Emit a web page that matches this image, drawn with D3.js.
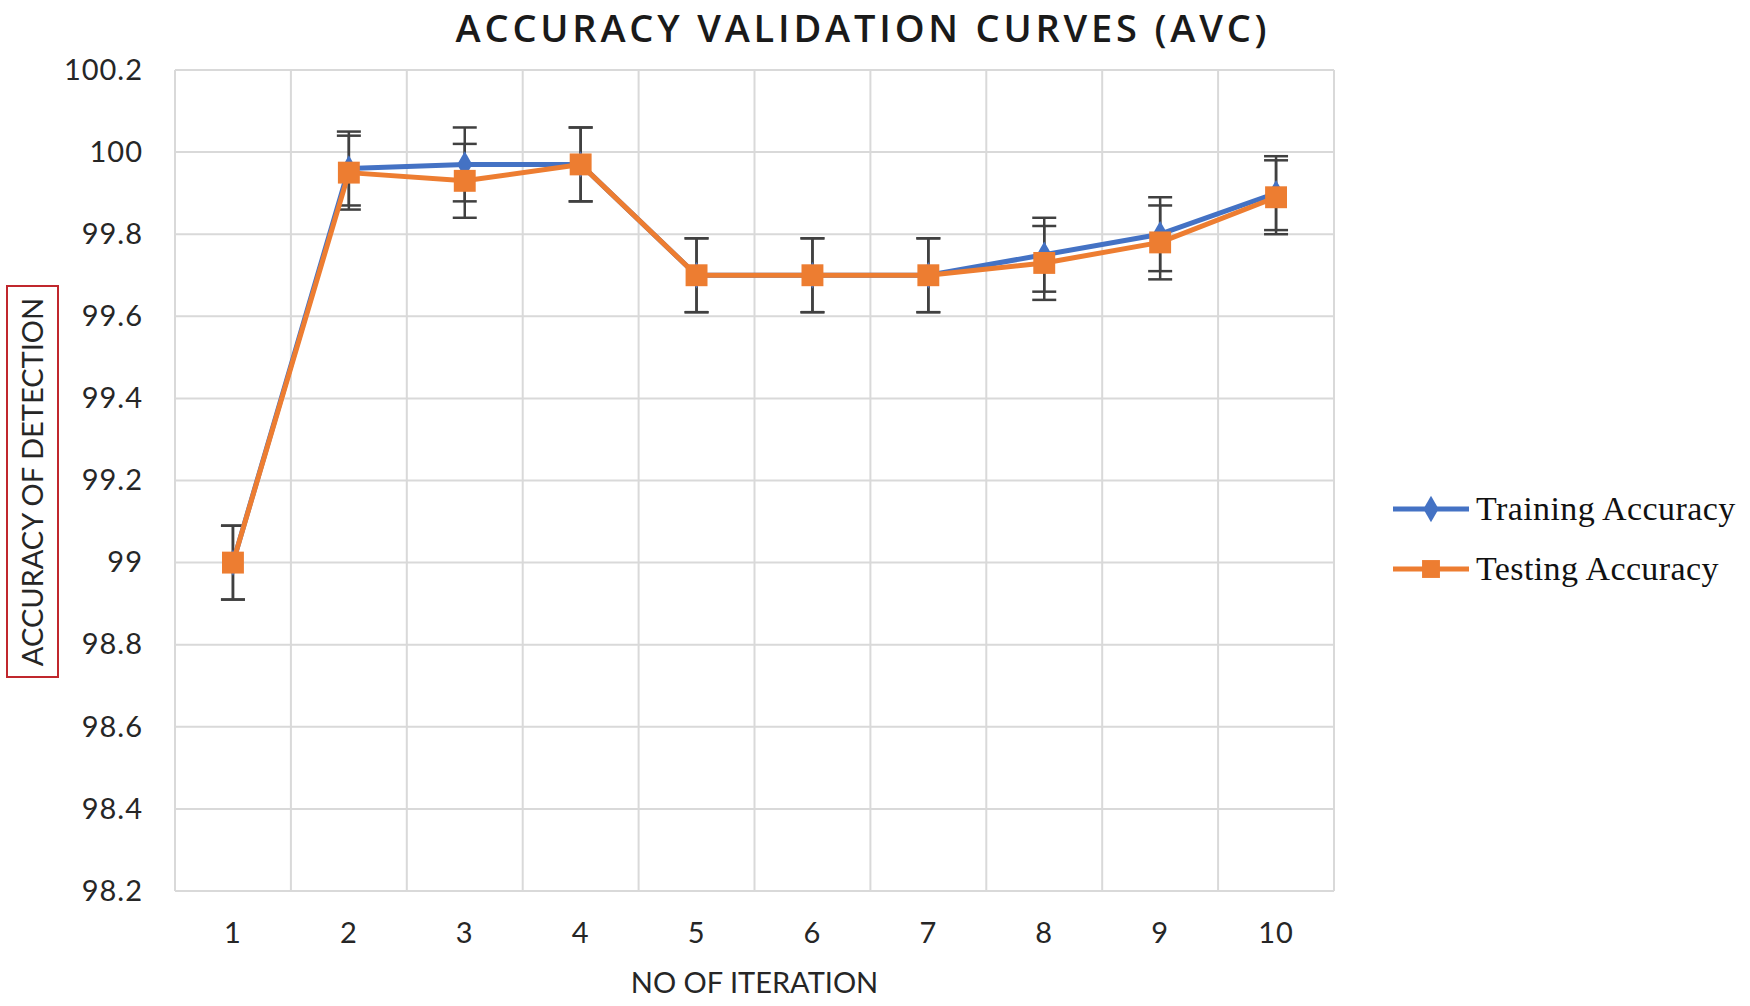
<!DOCTYPE html>
<html>
<head>
<meta charset="utf-8">
<script src="https://cdn.jsdelivr.net/npm/d3@7"></script>
<style>
  body { margin: 0; background: #fff; }
  svg { display: block; }
</style>
</head>
<body>
<svg></svg>
<script>
// chart data
let iterations = ['1', '2', '3', '4', '5', '6', '7', '8', '9', '10'];
let trainingAccuracy = [99.0, 99.96, 99.97, 99.97, 99.70, 99.70, 99.70, 99.75, 99.80, 99.90];
let testingAccuracy = [99.0, 99.95, 99.93, 99.97, 99.70, 99.70, 99.70, 99.73, 99.78, 99.89];
let errorAmount = 0.09;
let yTicks = [98.2, 98.4, 98.6, 98.8, 99, 99.2, 99.4, 99.6, 99.8, 100, 100.2];
let seriesNames = ['Training Accuracy', 'Testing Accuracy'];
let seriesColors = ['#4472c4', '#ed7d31'];

// configuration of svg/plot area
let config = {
  'svg': {},
  'margin': {},
  'plot': {}
};
config.svg.width = 1750;
config.svg.height = 1006;
config.margin.top = 70;
config.margin.left = 175;
config.margin.right = 416;
config.margin.bottom = 115;
config.plot.x = config.margin.left;
config.plot.y = config.margin.top;
config.plot.width = config.svg.width - config.margin.left - config.margin.right;
config.plot.height = config.svg.height - config.margin.top - config.margin.bottom;

let svg = d3.select('body').select('svg');
svg.attr('width', config.svg.width);
svg.attr('height', config.svg.height);

let labelFont = 'Lato, "Open Sans", sans-serif';
let errColor = '#404040';

let x = d3.scaleBand()
  .domain(iterations)
  .range([0, config.plot.width])
  .paddingInner(0)
  .paddingOuter(0);

let y = d3.scaleLinear()
  .domain([98.2, 100.2])
  .range([config.plot.height, 0]);

let plot = svg.append('g')
  .attr('transform', translate(config.plot.x, config.plot.y));

// horizontal gridlines
plot.append('g')
  .selectAll('line')
  .data(yTicks)
  .enter()
  .append('line')
    .attr('x1', 0)
    .attr('x2', config.plot.width)
    .attr('y1', d => y(d))
    .attr('y2', d => y(d))
    .attr('stroke', '#d9d9d9')
    .attr('stroke-width', 2);

// vertical gridlines at band edges
let edges = iterations.map(d => x(d)).concat([config.plot.width]);
plot.append('g')
  .selectAll('line')
  .data(edges)
  .enter()
  .append('line')
    .attr('x1', d => d)
    .attr('x2', d => d)
    .attr('y1', 0)
    .attr('y2', config.plot.height)
    .attr('stroke', '#d9d9d9')
    .attr('stroke-width', 2);

// y axis labels
let gy = plot.append('g')
  .call(d3.axisLeft(y).tickValues(yTicks).tickSize(0).tickPadding(32).tickFormat(d3.format('~g')));
gy.select('.domain').remove();
gy.selectAll('text')
  .attr('font-family', labelFont)
  .attr('font-size', 29)
  .attr('letter-spacing', 1)
  .attr('fill', '#262626');

// x axis labels
let gx = plot.append('g')
  .attr('transform', translate(0, config.plot.height))
  .call(d3.axisBottom(x).tickSize(0).tickPadding(31));
gx.select('.domain').remove();
gx.selectAll('text')
  .attr('font-family', labelFont)
  .attr('font-size', 29)
  .attr('letter-spacing', 1)
  .attr('fill', '#262626');

let series = [trainingAccuracy, testingAccuracy].map(function(vals, i) {
  return {
    name: seriesNames[i],
    color: seriesColors[i],
    values: vals.map((v, j) => ({ cat: iterations[j], value: v }))
  };
});

let cx = d => x(d.cat) + x.bandwidth() / 2;

// error bars
let capW = 12;
series.forEach(function(s) {
  let g = plot.append('g')
    .attr('stroke', errColor)
    .attr('stroke-width', 2.5);
  g.selectAll(null)
    .data(s.values)
    .enter()
    .append('line')
      .attr('x1', cx).attr('x2', cx)
      .attr('y1', d => y(d.value + errorAmount))
      .attr('y2', d => y(d.value - errorAmount));
  [errorAmount, -errorAmount].forEach(function(e) {
    g.selectAll(null)
      .data(s.values)
      .enter()
      .append('line')
        .attr('x1', d => cx(d) - capW)
        .attr('x2', d => cx(d) + capW)
        .attr('y1', d => y(d.value + e))
        .attr('y2', d => y(d.value + e));
  });
});

// lines and markers
let line = d3.line()
  .x(cx)
  .y(d => y(d.value));

series.forEach(function(s, i) {
  plot.append('path')
    .datum(s.values)
    .attr('fill', 'none')
    .attr('stroke', s.color)
    .attr('stroke-width', 5)
    .attr('stroke-linejoin', 'round')
    .attr('d', line);

  let sym = i === 0 ? d3.symbolDiamond : d3.symbolSquare;
  let size = i === 0 ? 200 : 480;
  plot.append('g')
    .selectAll('path')
    .data(s.values)
    .enter()
    .append('path')
      .attr('transform', d => translate(cx(d), y(d.value)))
      .attr('d', d3.symbol().type(sym).size(size))
      .attr('fill', s.color);
});

// title
svg.append('text')
  .attr('x', 863)
  .attr('y', 42)
  .attr('text-anchor', 'middle')
  .attr('font-family', '"Open Sans", sans-serif')
  .attr('font-weight', 600)
  .attr('font-size', 38)
  .attr('letter-spacing', 3.8)
  .attr('fill', '#1a1a1a')
  .text('ACCURACY VALIDATION CURVES (AVC)');

// x axis title
svg.append('text')
  .attr('x', config.plot.x + config.plot.width / 2)
  .attr('y', 993)
  .attr('text-anchor', 'middle')
  .attr('font-family', labelFont)
  .attr('font-size', 29)
  .attr('fill', '#262626')
  .text('NO OF ITERATION');

// y axis title with red box
svg.append('rect')
  .attr('x', 7)
  .attr('y', 286)
  .attr('width', 51)
  .attr('height', 391)
  .attr('fill', 'none')
  .attr('stroke', '#c0272d')
  .attr('stroke-width', 2);

svg.append('text')
  .attr('transform', translate(43, 482) + ' rotate(-90)')
  .attr('text-anchor', 'middle')
  .attr('font-family', labelFont)
  .attr('font-size', 29)
  .attr('fill', '#262626')
  .text('ACCURACY OF DETECTION');

// legend
let legend = svg.append('g')
  .attr('transform', translate(1393, 509));
series.forEach(function(s, i) {
  let row = legend.append('g')
    .attr('transform', translate(0, i * 60));
  row.append('line')
    .attr('x1', 0).attr('x2', 76)
    .attr('y1', 0).attr('y2', 0)
    .attr('stroke', s.color)
    .attr('stroke-width', 5);
  row.append('path')
    .attr('transform', translate(38, 0))
    .attr('d', d3.symbol().type(i === 0 ? d3.symbolDiamond : d3.symbolSquare).size(i === 0 ? 200 : 320))
    .attr('fill', s.color);
  row.append('text')
    .attr('x', 83)
    .attr('y', 11)
    .attr('font-family', '"Liberation Serif", "Times New Roman", serif')
    .attr('font-size', 34)
    .attr('letter-spacing', 0.4)
    .attr('fill', '#111')
    .text(s.name);
});

function translate(x, y) {
  return 'translate(' + x + ',' + y + ')';
}
</script>
</body>
</html>
